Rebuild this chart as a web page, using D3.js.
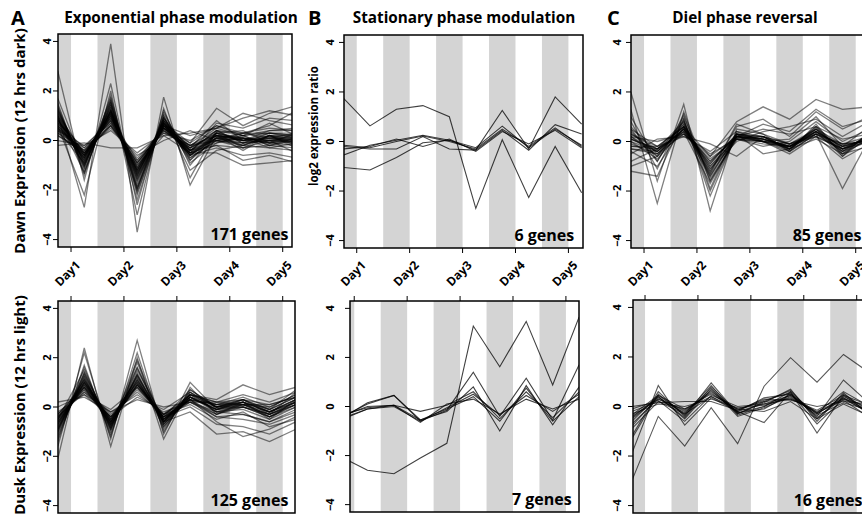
<!DOCTYPE html>
<meta charset="utf-8">
<script src="https://d3js.org/d3.v7.min.js"></script>
<style>
  body { margin: 0; background: #fff; }
  text { font-family: "Open Sans", "Noto Sans", sans-serif; font-weight: bold; fill: #000; }
</style>
<div id="my_dataviz"></div>
<script>

// sampling points (10 per series, 2 per day) and day labels
var timePoints = [1, 2, 3, 4, 5, 6, 7, 8, 9, 10];
var dayLabels = ["Day1", "Day2", "Day3", "Day4", "Day5"];
var dayTickPos = [1.5, 3.5, 5.5, 7.5, 9.5];
var darkPoints = [1, 3, 5, 7, 9];
var yTicks = [-4, -2, 0, 2, 4];

var colTitles = ["Exponential phase modulation", "Stationary phase modulation", "Diel phase reversal"];
var colLetters = ["A", "B", "C"];
var rowTitles = ["Dawn Expression (12 hrs dark)", "Dusk Expression (12 hrs light)"];
var geneCounts = ["171 genes", "6 genes", "85 genes", "125 genes", "7 genes", "16 genes"];

// log2 expression ratios (a sample of the dense clusters)
var expDawn = [
  [0.7, -0.6, 1.0, -1.2, 0.6, -0.4, 0.2, 0.0, 0.1, 0.1],
  [0.9, -0.8, 1.3, -1.5, 0.7, -0.5, 0.1, -0.1, 0.2, 0.0],
  [0.5, -0.4, 0.8, -1.0, 0.5, -0.3, 0.3, 0.1, 0.0, 0.2],
  [1.2, -1.1, 1.5, -1.8, 0.9, -0.7, 0.0, -0.2, 0.1, -0.1],
  [0.3, -0.3, 0.6, -0.7, 0.4, -0.2, 0.4, 0.2, 0.3, 0.3],
  [1.5, -1.4, 1.8, -2.2, 1.0, -0.9, -0.1, 0.2, -0.2, 0.0],
  [0.0, -0.2, 0.4, -0.5, 0.3, 0.0, 0.6, 0.3, 0.5, 0.4],
  [2.8, -1.6, 2.3, -2.6, 1.2, -1.0, 0.3, -0.3, 0.2, -0.2],
  [1.0, -2.7, 3.9, -3.7, 1.75, -1.8, 0.2, 0.1, -0.1, 0.1],
  [0.8, -0.7, 1.1, -1.3, 0.5, -0.5, 0.7, 0.5, 0.9, 0.8],
  [0.6, -0.5, 0.9, -1.1, 0.7, -0.1, 1.3, 0.6, 1.1, 1.4],
  [0.4, -0.9, 1.2, -1.6, 0.6, -0.6, -0.3, -0.6, -0.5, -0.7],
  [1.1, -0.6, 0.7, -0.9, 0.4, -0.4, -0.2, -0.8, -0.6, -0.9],
  [-0.2, -0.1, -0.3, -0.3, 0.2, 0.3, 0.5, 0.9, 1.2, 1.0],
  [1.3, -1.2, 1.4, -2.0, 1.1, -0.8, 0.1, 0.0, 0.3, 0.2],
  [0.2, -0.4, 0.5, -0.6, 0.0, 0.4, 0.0, 0.3, 0.6, 1.2],
  [0.9, -1.0, 1.6, -2.4, 1.0, -1.2, -0.4, -0.2, -0.3, -0.4],
  [0.6, -2.2, 2.0, -3.0, 1.3, -1.5, 0.4, -0.1, 0.0, -0.1],
  [0.7, -0.3, 0.9, -0.8, 0.3, -0.2, 0.2, -0.4, 0.2, -0.3],
  [1.7, -1.0, 1.2, -1.4, 0.8, -0.6, 0.3, 0.4, -0.1, 0.3],
  [0.5, -0.7, 1.0, -1.2, 0.6, 0.2, 0.5, 1.1, 0.8, 0.6],
  [0.8, -0.5, 0.6, -1.0, 0.2, -0.5, -0.5, -1.0, -0.9, -0.8],
  [1.0, -0.8, 1.2, -1.7, 0.8, -0.3, 0.8, 0.0, 0.4, 0.5],
  [0.3, -0.6, 1.1, -1.3, 0.7, -0.6, 0.1, 0.2, -0.2, 0.1],
  [1.4, -1.3, 1.6, -1.9, 0.9, -0.4, 0.0, -0.3, 0.0, -0.5],
  [0.4, -0.2, 0.7, -0.9, 0.5, -0.1, 0.6, 0.2, 0.7, 0.2],
  [0.6, -0.7, 1.1, -1.4, 0.7, -0.5, 0.2, 0.1, 0.0, 0.0],
  [1.0, -0.9, 1.2, -1.3, 0.6, -0.6, 0.1, -0.2, 0.2, 0.1],
  [0.8, -0.6, 0.9, -1.1, 0.5, -0.3, 0.3, 0.0, 0.1, 0.3],
  [1.1, -1.0, 1.4, -1.6, 0.8, -0.5, -0.1, 0.1, -0.1, -0.2],
  [0.5, -0.5, 1.0, -1.2, 0.6, -0.4, 0.4, 0.3, 0.3, 0.2],
  [0.9, -0.7, 1.3, -1.9, 0.7, -0.7, 0.0, -0.1, 0.0, 0.1],
  [0.4, -0.4, 0.8, -0.9, 0.4, -0.3, 0.2, -0.2, 0.2, -0.1],
  [1.3, -1.1, 1.7, -2.0, 0.9, -0.6, 0.2, 0.0, -0.1, 0.0],
  [0.7, -0.8, 1.0, -1.5, 0.6, -0.2, 0.5, 0.2, 0.4, 0.4],
  [0.6, -0.6, 1.2, -1.1, 0.5, -0.5, -0.2, -0.3, -0.2, -0.3],
  [1.2, -0.9, 1.1, -1.4, 0.7, -0.4, 0.1, 0.3, 0.1, 0.0],
  [0.9, -1.3, 1.5, -2.1, 0.8, -0.8, 0.3, 0.0, 0.2, 0.2],
  [0.2, -0.5, 0.6, -0.8, 0.5, -0.2, 0.0, 0.1, -0.3, -0.1],
  [1.0, -0.5, 0.8, -1.2, 0.6, -0.4, 0.4, -0.1, 0.3, 0.1]
];

var expDusk = [
  [-0.6, 0.9, -0.6, 1.0, -0.5, 0.4, -0.1, 0.1, -0.3, 0.2],
  [-0.9, 1.2, -0.8, 1.3, -0.7, 0.5, 0.0, 0.2, -0.2, 0.3],
  [-0.3, 0.6, -0.4, 0.7, -0.3, 0.3, 0.1, 0.3, -0.1, 0.4],
  [-1.3, 1.6, -1.1, 1.8, -0.9, 0.6, -0.2, 0.0, -0.4, 0.1],
  [-2.1, 2.4, -1.6, 2.0, -1.3, 0.8, -0.3, 0.2, -0.5, 0.3],
  [-1.6, 2.2, -1.3, 2.7, -1.1, 1.0, -0.1, 0.3, -0.3, 0.6],
  [0.2, 0.4, -0.2, 0.5, -0.2, 0.2, 0.2, 0.5, 0.2, 0.6],
  [-0.4, 0.7, -0.5, 0.8, -0.4, 0.0, -0.7, -0.8, -1.1, -0.6],
  [-0.8, 1.0, -0.7, 1.1, -0.6, -0.2, -1.1, -1.0, -1.4, -0.9],
  [-0.5, 0.8, -0.3, 0.6, -0.3, 0.5, 0.3, 0.9, 0.5, 0.8],
  [-1.0, 1.4, -0.9, 1.5, -0.5, 0.3, -0.4, -0.5, -0.7, -0.3],
  [-0.2, 0.5, -0.4, 0.4, -0.1, 0.6, 0.0, 0.3, -0.1, 0.7],
  [-0.7, 1.1, -0.6, 1.2, -0.8, 0.4, -0.2, -0.3, -0.6, -0.2],
  [-1.1, 1.3, -1.0, 1.6, -0.6, 0.3, 0.1, 0.4, 0.0, 0.5],
  [-0.4, 0.6, -0.2, 0.3, 0.0, 0.2, -0.3, 0.1, -0.2, 0.2],
  [-0.6, 0.8, -0.7, 0.9, -0.4, 0.7, 0.0, 0.2, -0.4, 0.0],
  [0.0, 0.5, -0.1, 0.8, -0.3, 0.1, -0.5, -0.2, -0.8, -0.5],
  [-0.9, 1.0, -0.5, 1.0, -0.6, 0.5, 0.2, 0.1, 0.1, 0.4],
  [-0.5, 1.5, -0.9, 1.9, -0.7, 0.4, -0.1, 0.0, -0.3, 0.1],
  [-0.3, 0.9, -0.6, 0.9, -0.4, 0.3, -0.6, -1.2, -0.9, -0.4],
  [-0.7, 1.0, -0.7, 1.1, -0.6, 0.4, -0.1, 0.2, -0.2, 0.3],
  [-0.5, 0.8, -0.5, 0.9, -0.4, 0.3, 0.0, 0.0, -0.4, 0.1],
  [-0.8, 1.1, -0.6, 1.2, -0.5, 0.5, -0.2, 0.1, -0.3, 0.2],
  [-1.0, 1.2, -0.9, 1.4, -0.7, 0.4, 0.1, 0.2, -0.1, 0.4],
  [-0.4, 0.7, -0.4, 0.8, -0.4, 0.2, -0.2, -0.1, -0.5, 0.0],
  [-1.2, 1.4, -0.8, 1.3, -0.6, 0.6, 0.0, 0.3, -0.2, 0.2],
  [-0.6, 1.0, -0.5, 1.1, -0.5, 0.3, -0.3, 0.0, -0.3, 0.1],
  [-0.9, 1.3, -0.7, 1.6, -0.8, 0.5, 0.1, 0.1, 0.0, 0.5],
  [-0.3, 0.8, -0.6, 0.9, -0.3, 0.4, -0.1, 0.2, -0.2, 0.3],
  [-0.7, 0.9, -0.4, 1.0, -0.5, 0.2, -0.4, -0.3, -0.6, -0.1],
  [-1.4, 1.7, -1.2, 2.2, -1.0, 0.7, 0.0, 0.1, -0.4, 0.2],
  [-0.5, 1.1, -0.8, 1.3, -0.6, 0.5, 0.2, 0.3, 0.1, 0.4]
];

var statDawn = [
  [1.75, 0.63, 1.3, 1.45, 1.0, -2.7, 0.07, -2.26, -0.2, -2.07],
  [-1.05, -1.15, -0.65, -0.05, 0.05, -0.35, 1.25, -0.3, 1.8, 0.7],
  [-0.55, -0.15, 0.05, 0.25, 0.05, -0.25, 0.62, -0.25, 0.5, -0.15],
  [-0.2, -0.3, -0.3, 0.2, -0.3, -0.35, 0.45, -0.35, 0.68, 0.3],
  [-0.3, -0.2, 0.1, -0.2, 0.1, -0.4, 0.4, -0.1, 0.45, -0.25],
  [-0.15, -0.25, 0.0, 0.22, 0.0, -0.3, 0.5, -0.2, 0.55, -0.2]
];

var statDusk = [
  [-2.05, -2.6, -2.74, -2.1, -1.5, 3.28, 1.62, 3.47, 0.88, 3.65],
  [-0.5, 0.15, 0.45, -0.6, -0.15, 1.4, -0.4, 1.15, -0.55, 1.7],
  [-0.45, 0.1, 0.45, -0.55, -0.2, 0.8, -1.0, 0.85, -0.75, 0.8],
  [-0.4, 0.0, 0.05, -0.2, 0.05, 0.6, -0.5, 0.6, -0.45, 0.6],
  [-0.5, -0.1, 0.0, -0.6, -0.05, 0.5, -0.35, 0.45, -0.2, 0.5],
  [-0.35, -0.05, 0.05, -0.55, -0.1, 0.4, -0.6, 0.75, -0.6, 0.4],
  [-0.55, -0.1, 0.05, -0.65, 0.1, 0.3, -0.3, 0.3, -0.1, 0.3]
];

var dielDawn = [
  [0.0, -0.4, 0.5, -1.0, 0.2, 0.1, -0.2, 0.4, -0.2, 0.1],
  [0.3, -0.3, 0.8, -1.4, 0.3, 0.0, -0.3, 0.5, -0.4, 0.2],
  [-0.3, -0.5, 0.3, -0.7, 0.1, 0.2, -0.1, 0.3, -0.1, 0.0],
  [0.8, -1.1, 1.1, -1.9, 0.4, 0.2, -0.3, 0.6, -0.5, 0.3],
  [2.0, -1.6, 1.5, -2.8, 0.5, 0.3, -0.4, 0.7, -0.6, 0.4],
  [-1.2, -1.4, 0.9, -2.2, 0.3, 0.1, -0.2, 0.5, -0.3, 0.2],
  [1.3, -2.5, 1.2, -1.6, 0.2, 0.0, 0.1, 1.0, -0.2, 0.6],
  [0.5, -0.2, 0.6, -0.6, 0.8, 1.4, 0.9, 1.7, 1.3, 1.4],
  [-0.5, 0.1, 0.2, -0.1, -0.6, 0.2, -0.4, 0.3, -1.9, 0.1],
  [0.2, -0.6, 0.7, -1.2, 0.6, 0.9, 0.2, 1.2, 0.5, 1.0],
  [-0.8, -0.3, 0.4, -0.9, 0.3, -0.5, -0.3, 0.1, -0.5, -0.2],
  [0.6, -0.5, 0.6, -1.1, 0.0, 0.4, 0.6, 0.9, 0.2, 0.8],
  [-0.2, -0.2, 0.2, -0.4, 0.4, 0.0, -0.5, 0.2, -0.7, -0.1],
  [1.0, -0.8, 1.0, -1.5, 0.1, -0.2, 0.0, 0.8, 0.0, 0.5],
  [0.1, -0.4, 0.5, -0.8, 0.2, 0.7, 0.4, 1.3, 0.6, 0.9],
  [-0.4, -1.0, 0.6, -1.3, 0.7, 0.3, -0.1, 0.4, -0.4, 0.3],
  [0.2, 0.0, 0.3, -0.5, 0.1, -0.1, -0.2, 0.2, -0.3, 0.1],
  [-1.0, -0.6, 0.4, -1.7, 0.2, 0.5, 0.3, 0.6, 0.1, 0.3],
  [0.1, -0.3, 0.6, -1.1, 0.2, 0.0, -0.2, 0.3, -0.3, 0.0],
  [-0.1, -0.5, 0.5, -0.9, 0.3, 0.1, -0.3, 0.4, -0.2, 0.1],
  [0.2, -0.4, 0.7, -1.3, 0.2, 0.2, -0.1, 0.5, -0.1, 0.2],
  [0.4, -0.6, 0.8, -1.6, 0.1, 0.0, -0.4, 0.3, -0.4, 0.0],
  [-0.2, -0.3, 0.4, -0.8, 0.2, 0.1, -0.2, 0.4, -0.2, 0.1],
  [0.0, -0.7, 0.5, -1.2, 0.3, 0.2, -0.3, 0.6, -0.3, 0.2],
  [0.3, -0.2, 0.6, -1.0, 0.1, 0.0, -0.1, 0.2, -0.3, 0.0],
  [-0.3, -0.4, 0.5, -1.4, 0.2, 0.1, -0.2, 0.5, -0.5, 0.1],
  [0.5, -0.8, 0.9, -2.0, 0.3, 0.2, -0.3, 0.4, -0.6, 0.2],
  [0.1, -0.3, 0.3, -0.6, 0.2, 0.0, -0.2, 0.3, -0.1, 0.0]
];

var dielDusk = [
  [-3.0, -0.4, -1.6, -0.05, -1.5, 0.82, 1.97, 0.98, 2.1, 1.35],
  [-1.9, 0.85, -0.75, 0.35, -0.2, -0.65, 0.6, -1.07, 0.45, -0.3],
  [-0.4, 0.3, -0.15, 0.55, -0.2, 0.1, 0.45, -0.3, 0.4, -0.1],
  [-0.6, 0.45, -0.3, 0.85, -0.35, 0.0, 0.6, -0.5, 0.5, -0.2],
  [-0.2, 0.2, -0.1, 0.4, -0.1, 0.2, 0.3, -0.2, 0.3, 0.0],
  [-1.2, 0.6, -0.4, 0.95, -0.3, 0.15, 0.7, -0.6, 0.55, -0.35],
  [0.0, 0.15, 0.2, 0.2, -0.15, 0.3, 0.25, 0.0, 0.2, 0.1],
  [-0.8, 0.4, -0.5, 0.7, -0.25, -0.1, 0.5, -0.4, 1.07, 0.1],
  [-0.3, 0.1, 0.0, 0.3, -0.05, 0.05, 0.35, -0.25, 0.25, -0.45],
  [-0.5, 0.35, -0.2, 0.6, -0.15, 0.25, 0.55, -0.7, 0.3, -0.25],
  [-1.3, 0.5, -0.35, 0.75, -0.4, -0.05, 0.4, -0.35, 0.15, -0.15],
  [-0.1, 0.25, -0.6, 0.45, 0.0, 0.1, 0.3, -0.15, 0.45, 0.05],
  [-0.7, 0.3, -0.25, 0.65, -0.3, 0.2, 0.65, -0.45, 0.35, -0.3],
  [-0.35, 0.45, -0.1, 0.5, -0.1, -0.2, 0.2, -0.5, 0.1, -0.4],
  [-0.9, 0.2, -0.3, 0.4, -0.2, 0.35, 0.5, -0.25, 0.6, 0.0],
  [-0.45, 0.4, -0.45, 0.8, -0.25, 0.0, 0.45, -0.3, 0.35, -0.2]
];

// panel layout (pixels)
var panels = [
  {genes: expDawn,  count: geneCounts[0], row: 0, col: 0, x1: 57.8,  left: 58,  right: 292, top: 34,  bottom: 247, alpha: 0.5,  width: 1.3},
  {genes: statDawn, count: geneCounts[1], row: 0, col: 1, x1: 343.5, left: 344, right: 583, top: 35,  bottom: 248, alpha: 0.75, width: 1.1},
  {genes: dielDawn, count: geneCounts[2], row: 0, col: 2, x1: 630.8, left: 631, right: 880, top: 35,  bottom: 248, alpha: 0.5,  width: 1.3},
  {genes: expDusk,  count: geneCounts[3], row: 1, col: 0, x1: 57.8,  left: 58,  right: 295, top: 301, bottom: 513, alpha: 0.5,  width: 1.3},
  {genes: statDusk, count: geneCounts[4], row: 1, col: 1, x1: 341,   left: 350, right: 579, top: 301, bottom: 512, alpha: 0.75, width: 1.1},
  {genes: dielDusk, count: geneCounts[5], row: 1, col: 2, x1: 631.8, left: 633, right: 880, top: 300, bottom: 513, alpha: 0.65, width: 1.1}
];
var tickLabelX = [47, 330, 617];
var step = 26.46;

var svg = d3.select("#my_dataviz")
  .append("svg")
    .attr("width", 862)
    .attr("height", 515);

panels.forEach(function(p, k) {
  var x = d3.scaleLinear().domain([1, 10]).range([p.x1, p.x1 + 9 * step]);
  var y = d3.scaleLinear().domain([-4.3, 4.3]).range([p.bottom, p.top]);

  var clipId = "clip" + k;
  svg.append("clipPath").attr("id", clipId)
    .append("rect")
      .attr("x", p.left).attr("y", p.top)
      .attr("width", p.right - p.left).attr("height", p.bottom - p.top);

  var g = svg.append("g").attr("clip-path", "url(#" + clipId + ")");

  // dark (night) bands
  g.selectAll("rect.band")
    .data(darkPoints)
    .enter()
    .append("rect")
      .attr("class", "band")
      .attr("x", function(d) { return x(d - 0.5); })
      .attr("width", function(d) { return x(d + 0.5) - x(d - 0.5); })
      .attr("y", p.top)
      .attr("height", p.bottom - p.top)
      .attr("fill", "#d4d4d4");

  var line = d3.line()
    .x(function(d, i) { return x(timePoints[i]); })
    .y(function(d) { return y(d); });

  g.selectAll("path.gene")
    .data(p.genes)
    .enter()
    .append("path")
      .attr("class", "gene")
      .attr("d", line)
      .attr("fill", "none")
      .attr("stroke", "#000")
      .attr("stroke-opacity", p.alpha)
      .attr("stroke-width", p.width);

  // gene count
  g.append("text")
    .attr("x", x(9.72))
    .attr("y", y(-4.0))
    .attr("text-anchor", "end")
    .style("font-size", "16px")
    .text(p.count);

  // frame
  svg.append("rect")
    .attr("x", p.left).attr("y", p.top)
    .attr("width", p.right - p.left).attr("height", p.bottom - p.top)
    .attr("fill", "none")
    .attr("stroke", "#000")
    .attr("stroke-width", 1.5);

  // y axis
  var ya = svg.append("g");
  ya.selectAll("line")
    .data(yTicks)
    .enter()
    .append("line")
      .attr("x1", p.left - 5).attr("x2", p.left)
      .attr("y1", function(d) { return y(d); })
      .attr("y2", function(d) { return y(d); })
      .attr("stroke", "#000");
  ya.selectAll("text")
    .data(yTicks)
    .enter()
    .append("text")
      .attr("transform", function(d) { return "translate(" + (tickLabelX[p.col] + 4) + "," + y(d) + ") rotate(-90)"; })
      .attr("text-anchor", "middle")
      .style("font-size", "11px")
      .text(d3.format("d"));

  // day ticks: below top row, above bottom row
  var ty0 = p.row === 0 ? p.bottom : p.top;
  var ty1 = p.row === 0 ? p.bottom + 5 : p.top - 5;
  svg.selectAll(null)
    .data(dayTickPos)
    .enter()
    .append("line")
      .attr("x1", function(d) { return x(d); })
      .attr("x2", function(d) { return x(d); })
      .attr("y1", ty0).attr("y2", ty1)
      .attr("stroke", "#000");

  if (p.row === 0) {
    svg.selectAll(null)
      .data(dayTickPos)
      .enter()
      .append("text")
        .attr("transform", function(d, i) { return "translate(" + (x(d) + 10) + ",266) rotate(-45)"; })
        .attr("text-anchor", "end")
        .style("font-size", "12px")
        .text(function(d, i) { return dayLabels[i]; });

    // column title and letter
    svg.append("text")
      .attr("x", [181, 464, 745][p.col])
      .attr("y", 23)
      .attr("text-anchor", "middle")
      .style("font-size", "15.3px")
      .text(colTitles[p.col]);
    svg.append("text")
      .attr("x", [11, 308, 607][p.col])
      .attr("y", 25)
      .style("font-size", "20px")
      .text(colLetters[p.col]);
  }
});

// row titles
svg.append("text")
  .attr("transform", "translate(25,141) rotate(-90)")
  .attr("text-anchor", "middle")
  .style("font-size", "15px")
  .text(rowTitles[0]);
svg.append("text")
  .attr("transform", "translate(25,405) rotate(-90)")
  .attr("text-anchor", "middle")
  .style("font-size", "15px")
  .text(rowTitles[1]);
svg.append("text")
  .attr("transform", "translate(318,126) rotate(-90)")
  .attr("text-anchor", "middle")
  .style("font-size", "11.5px")
  .text("log2 expression ratio");

</script>
